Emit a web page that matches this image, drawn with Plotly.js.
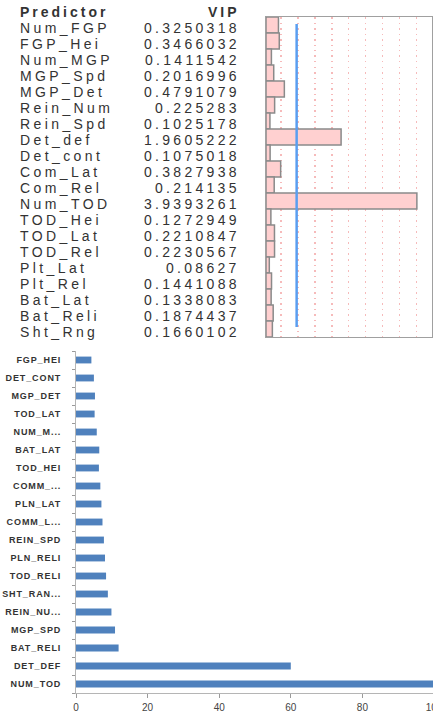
<!DOCTYPE html>
<html>
<head>
<meta charset="utf-8">
<script src="https://cdn.plot.ly/plotly-3.0.1.min.js"></script>
<style>
  html, body { margin:0; padding:0; background:#fff; overflow:hidden; width:433px; height:715px; }
  #top { position:absolute; left:0; top:0; width:433px; height:345px; }
  #bottom { position:absolute; left:0; top:345px; width:460px; height:385px; }
</style>
</head>
<body>
<div id="top"></div>
<div id="bottom"></div>
<script>
// ---- Top panel: predictors and VIP scores ----
const vipPredictors = ["Num_FGP","FGP_Hei","Num_MGP","MGP_Spd","MGP_Det","Rein_Num","Rein_Spd","Det_def","Det_cont","Com_Lat","Com_Rel","Num_TOD","TOD_Hei","TOD_Lat","TOD_Rel","Plt_Lat","Plt_Rel","Bat_Lat","Bat_Reli","Sht_Rng"];
const vipValues = [0.3250318,0.3466032,0.1411542,0.2016996,0.4791079,0.225283,0.1025178,1.9605222,0.1075018,0.3827938,0.214135,3.9393261,0.1272949,0.2210847,0.2230567,0.08627,0.1441088,0.1338083,0.1874437,0.1660102];
const vipThreshold = 0.8;
const vipHeader = ["Predictor", "VIP"];

// ---- Bottom panel: importance ----
const impCategories = ["FGP_HEI","DET_CONT","MGP_DET","TOD_LAT","NUM_M...","BAT_LAT","TOD_HEI","COMM_...","PLN_LAT","COMM_L...","REIN_SPD","PLN_RELI","TOD_RELI","SHT_RAN...","REIN_NU...","MGP_SPD","BAT_RELI","DET_DEF","NUM_TOD"];
const impValues = [4.3,5.0,5.3,5.2,5.8,6.5,6.4,6.8,7.1,7.4,7.8,8.1,8.4,8.9,9.9,10.9,11.9,60,100];
const impTicks = [0,20,40,60,80,100];

const spaced = (s, ls) => '<span style="letter-spacing:' + ls + 'px">' + s + '</span>';
const tableFont = {family: "Liberation Sans, Arial, sans-serif", size: 14, color: "#333"};

// Top figure
const n = vipPredictors.length;
const annotations = [];
vipPredictors.forEach((p, i) => {
  annotations.push({xref:"paper", yref:"y", x:-1.494, y:p, xanchor:"left", yanchor:"middle",
    text: spaced(p, 3.4), showarrow:false, font: tableFont, yshift:-3});
  annotations.push({xref:"paper", yref:"y", x:-0.145, y:p, xanchor:"right", yanchor:"middle",
    text: spaced(String(vipValues[i]), 3.3), showarrow:false, font: tableFont, yshift:-3});
});
annotations.push({xref:"paper", yref:"paper", x:-1.494, y:1.017, xanchor:"left", yanchor:"middle",
  text: spaced("<b>" + vipHeader[0] + "</b>", 3.0), showarrow:false, font: tableFont});
annotations.push({xref:"paper", yref:"paper", x:-0.145, y:1.017, xanchor:"right", yanchor:"middle",
  text: spaced("<b>" + vipHeader[1] + "</b>", 3.0), showarrow:false, font: tableFont});

Plotly.newPlot("top", [{
  type: "bar", orientation: "h",
  x: vipValues, y: vipPredictors,
  marker: {color: "rgb(255,208,208)", line: {color: "#8a8a8a", width: 1.5}},
  hoverinfo: "none"
}], {
  width: 433, height: 345,
  margin: {l: 266, r: 1, t: 17, b: 8, pad: 0},
  paper_bgcolor: "#fff", plot_bgcolor: "#fff",
  bargap: 0,
  showlegend: false,
  xaxis: {range: [0, 4.334], showticklabels: false, ticks: "", zeroline: false,
    showgrid: true, tick0: 0.392, dtick: 0.4425, gridcolor: "rgba(240,140,140,0.6)", gridwidth: 1.3, griddash: "1.5px,4px",
    showline: true, mirror: true, linecolor: "#a0a0a0", linewidth: 1},
  yaxis: {type: "category", range: [n - 0.5, -0.5], showticklabels: false, ticks: "", showgrid: false, zeroline: false,
    showline: true, mirror: true, linecolor: "#a0a0a0", linewidth: 1},
  shapes: [{type: "line", xref: "x", yref: "paper", x0: vipThreshold, x1: vipThreshold, y0: 0.031, y1: 0.978,
    line: {color: "#5a9ef0", width: 2.5}, layer: "above"}],
  annotations: annotations
}, {staticPlot: true, displayModeBar: false});

// Bottom figure
Plotly.newPlot("bottom", [{
  type: "bar", orientation: "h",
  x: impValues, y: impCategories,
  marker: {color: "#4f81bd", line: {width: 0}},
  hoverinfo: "none"
}], {
  width: 460, height: 385,
  margin: {l: 76, r: 26, t: 5.5, b: 37, pad: 0},
  paper_bgcolor: "#fff", plot_bgcolor: "#fff",
  bargap: 0.62,
  showlegend: false,
  xaxis: {range: [0, 100], tickvals: impTicks, ticktext: impTicks.map(String), ticks: "outside", ticklen: 4,
    tickcolor: "#9a9a9a", showgrid: false, zeroline: false, showline: true, linecolor: "#b5b5b5", linewidth: 1,
    ticklabelstandoff: 1,
    tickfont: {family: "Liberation Sans, Arial, sans-serif", size: 10, color: "#444"}},
  yaxis: {type: "category", autorange: "reversed", tickvals: impCategories,
    ticktext: impCategories.map(c => spaced(c, 0.9)),
    ticks: "outside", tickson: "boundaries", ticklen: 3, tickcolor: "#9a9a9a",
    showgrid: false, zeroline: false, showline: true, linecolor: "#b5b5b5", linewidth: 1,
    ticklabelstandoff: 12,
    tickfont: {family: "Liberation Sans, Arial, sans-serif", size: 9, color: "#333", weight: "bold"}}
}, {staticPlot: true, displayModeBar: false});
</script>
</body>
</html>
